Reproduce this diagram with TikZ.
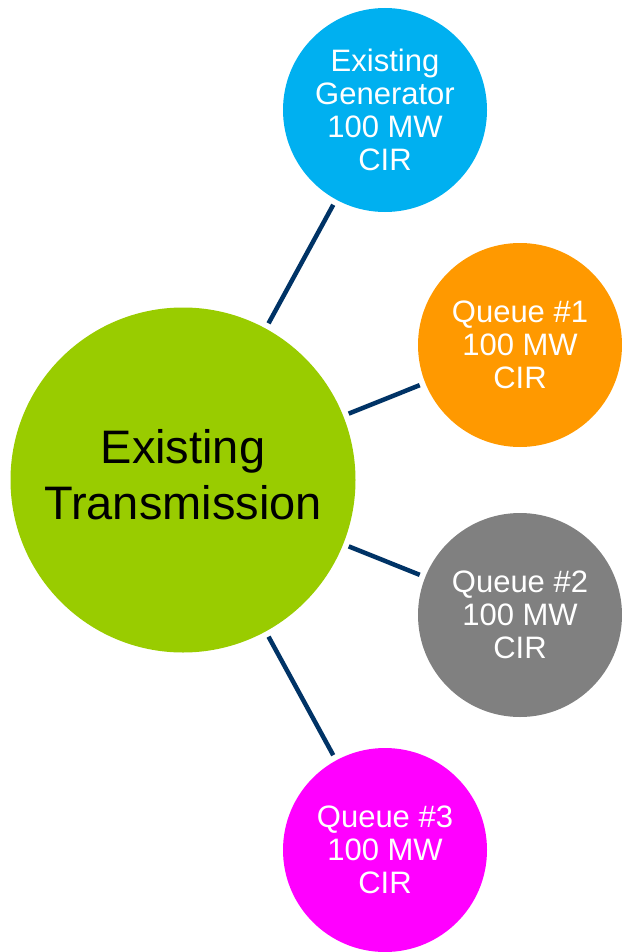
\documentclass[tikz,border=0pt]{standalone}
\usepackage{fontspec}
\setmainfont{Liberation Sans}
\definecolor{mainGreen}{HTML}{99CC00}
\definecolor{genBlue}{HTML}{00B0F0}
\definecolor{qOrange}{HTML}{FF9900}
\definecolor{qGray}{HTML}{808080}
\definecolor{qMagenta}{HTML}{FF00FF}
\definecolor{linkNavy}{HTML}{003366}
\begin{document}
\begin{tikzpicture}[x=1pt,y=-1pt,
  bigcirc/.style={circle,fill=mainGreen,draw=none,inner sep=0pt,outer sep=0pt,minimum size=345pt,
    text=black,align=center,text depth=12pt,font=\fontsize{47}{56}\selectfont},
  smallcirc/.style={circle,draw=none,inner sep=0pt,outer sep=0pt,minimum size=204pt,
    text=white,align=center,font=\fontsize{31}{33}\selectfont},
  link/.style={draw=linkNavy,line width=4.5pt,shorten <=6pt,shorten >=6pt}]
\useasboundingbox (0,0) rectangle (621,952);
\node[bigcirc] (main) at (183,480) {Existing\\Transmission};
\node[smallcirc,fill=genBlue] (gen) at (385,110) {Existing\\Generator\\100 MW\\CIR};
\node[smallcirc,fill=qOrange] (q1) at (520,345) {Queue \#1\\100 MW\\CIR};
\node[smallcirc,fill=qGray] (q2) at (520,615) {Queue \#2\\100 MW\\CIR};
\node[smallcirc,fill=qMagenta] (q3) at (385,850) {Queue \#3\\100 MW\\CIR};
\draw[link] (main) -- (gen);
\draw[link] (main) -- (q1);
\draw[link] (main) -- (q2);
\draw[link] (main) -- (q3);
\end{tikzpicture}
\end{document}
